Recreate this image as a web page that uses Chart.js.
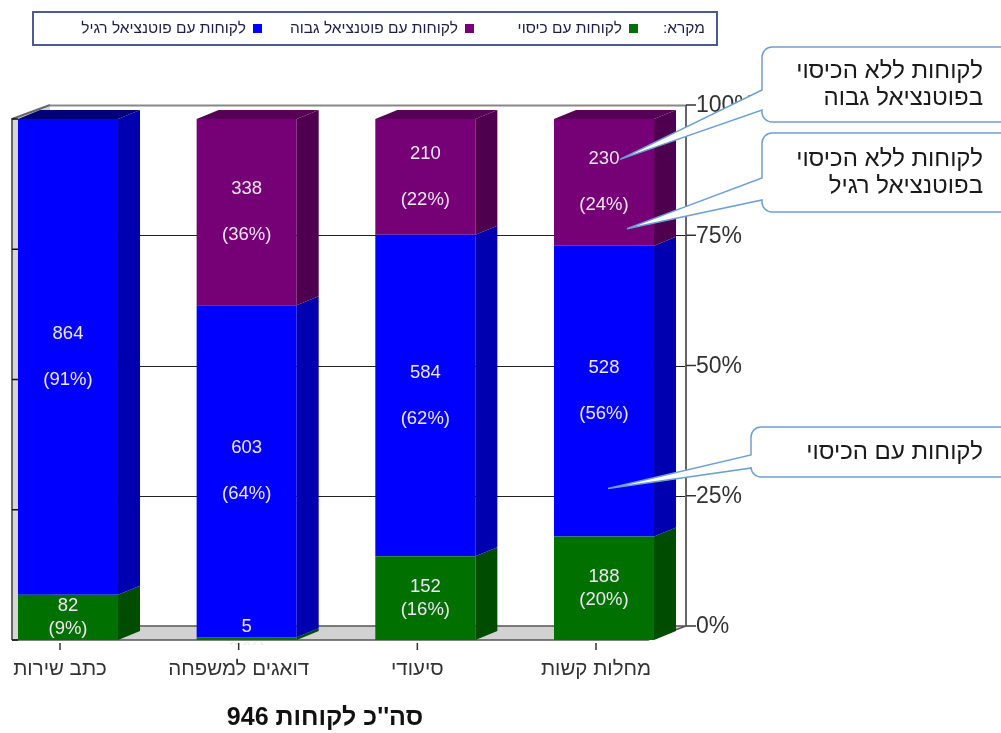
<!DOCTYPE html>
<html>
<head>
<meta charset="utf-8">
<script src="https://cdn.jsdelivr.net/npm/chart.js@4/dist/chart.umd.min.js"></script>
<style>
  html, body { margin: 0; padding: 0; background: #fff; }
  #wrap { width: 1001px; height: 733px; }
</style>
</head>
<body>
<div id="wrap"><canvas id="chart" width="1001" height="733"></canvas></div>
<script>
// נתונים - סדר הקטגוריות מימין לשמאל
const categories = ['מחלות קשות', 'סיעודי', 'דואגים למשפחה', 'כתב שירות'];
const coveredCounts = [188, 152, 5, 82];
const regularCounts = [528, 584, 603, 864];
const highCounts = [230, 210, 338, 0];
const seriesNames = ['לקוחות עם כיסוי', 'לקוחות עם פוטנציאל רגיל', 'לקוחות עם פוטנציאל גבוה'];
const yTicks = [0, 25, 50, 75, 100];

const totals = categories.map((c, i) => coveredCounts[i] + regularCounts[i] + highCounts[i]);
const grandTotal = totals[0];
const toPct = arr => arr.map((v, i) => v / totals[i] * 100);

const FONT = '"Liberation Sans", Arial, "DejaVu Sans", sans-serif';
const DX = 22, DY = 9;          // עומק תלת-ממדי של העמודות
const WX = 38, WY = 14;         // עומק הרצפה / הקיר

const frontColors = ['#007000', '#0000ff', '#760076'];
const sideColors = ['#004c00', '#0000b0', '#4e004f'];
const topColors = ['#005000', '#000078', '#560058'];

const counts = [coveredCounts, regularCounts, highCounts];

function shade(ctx, pts, fill) {
    ctx.beginPath();
    ctx.moveTo(pts[0][0], pts[0][1]);
    for (let k = 1; k < pts.length; k++) ctx.lineTo(pts[k][0], pts[k][1]);
    ctx.closePath();
    ctx.fillStyle = fill;
    ctx.fill();
}

// רקע: קירות, רצפה וקווי רשת
const backdrop = {
    id: 'backdrop',
    beforeDatasetsDraw(chart) {
        const { ctx, scales: { y } } = chart;
        const left = 12, right = 648;
        const y0 = y.getPixelForValue(0), y100 = y.getPixelForValue(100);
        ctx.save();
        // קיר שמאלי
        shade(ctx, [[left, y100], [left + WX, y100 - WY], [left + WX, y0 - WY], [left, y0]], '#d6d6d6');
        // רצפה
        shade(ctx, [[left, y0], [right, y0], [right + WX, y0 - WY], [left + WX, y0 - WY]], '#d2d2d2');
        ctx.strokeStyle = '#555';
        ctx.lineWidth = 1.5;
        ctx.beginPath();
        ctx.moveTo(left + WX, y0 - WY); ctx.lineTo(right + WX, y0 - WY);
        ctx.moveTo(left, y0); ctx.lineTo(right, y0); ctx.lineTo(right + WX, y0 - WY);
        ctx.stroke();
        // קווי רשת בקיר האחורי
        yTicks.forEach(t => {
            if (t === 0) return;
            const py = Math.round(y.getPixelForValue(t) - WY) + 0.5;
            ctx.strokeStyle = t === 100 ? '#888' : '#222';
            ctx.lineWidth = t === 100 ? 2 : 1;
            ctx.beginPath();
            ctx.moveTo(left + WX, py);
            ctx.lineTo(right + WX, py);
            ctx.stroke();
        });
        // ציר שמאלי
        ctx.strokeStyle = '#666';
        ctx.lineWidth = 2;
        ctx.beginPath();
        ctx.moveTo(left + WX, y100 - WY); ctx.lineTo(left, y100); ctx.lineTo(left, y0);
        ctx.stroke();
        ctx.strokeStyle = '#111';
        ctx.lineWidth = 1.5;
        yTicks.forEach(t => {
            const py = y.getPixelForValue(t);
            ctx.beginPath(); ctx.moveTo(left, py); ctx.lineTo(left + 6, py); ctx.stroke();
        });
        // ציר ימני ותוויות אחוזים
        ctx.strokeStyle = '#666';
        ctx.lineWidth = 2;
        ctx.beginPath();
        ctx.moveTo(right + WX, y100 - WY); ctx.lineTo(right + WX, y0 - WY);
        ctx.stroke();
        ctx.font = '23px ' + FONT;
        ctx.fillStyle = '#333';
        ctx.textAlign = 'left';
        ctx.textBaseline = 'middle';
        yTicks.forEach(t => {
            const py = y.getPixelForValue(t) - WY;
            ctx.strokeStyle = '#333';
            ctx.lineWidth = 1.5;
            ctx.beginPath(); ctx.moveTo(right + WX, py); ctx.lineTo(right + WX + 10, py); ctx.stroke();
            ctx.fillText(t + '%', right + WX + 10, py + 1);
        });
        ctx.restore();
    },
    afterDatasetsDraw(chart) {
        const { ctx } = chart;
        ctx.save();
        // פאות צד ועליונות
        chart.data.datasets.forEach((ds, di) => {
            chart.getDatasetMeta(di).data.forEach((bar, j) => {
                if (!ds.data[j]) return;
                const l = bar.x - bar.width / 2, r = bar.x + bar.width / 2;
                const top = bar.y, bot = bar.base;
                shade(ctx, [[r, top], [r + DX, top - DY], [r + DX, bot - DY], [r, bot]], sideColors[di]);
                const above = chart.data.datasets.slice(di + 1).some(d => d.data[j] > 0);
                if (!above) {
                    shade(ctx, [[l, top], [l + DX, top - DY], [r + DX, top - DY], [r, top]], topColors[di]);
                }
            });
        });
        // תוויות ערכים
        const area = chart.chartArea;
        ctx.beginPath();
        ctx.rect(0, 0, 1001, area.bottom + 5);
        ctx.clip();
        ctx.font = '18.5px ' + FONT;
        ctx.fillStyle = '#efe6f2';
        ctx.textAlign = 'center';
        ctx.textBaseline = 'middle';
        chart.data.datasets.forEach((ds, di) => {
            const gap = di === 0 ? 11.5 : 23;
            chart.getDatasetMeta(di).data.forEach((bar, j) => {
                const n = counts[di][j];
                if (!n) return;
                const mid = (bar.y + bar.base) / 2;
                ctx.fillText(String(n), bar.x, mid - gap);
                ctx.fillText('(' + Math.round(ds.data[j]) + '%)', bar.x, mid + gap);
            });
        });
        ctx.restore();
    },
    afterDraw(chart) {
        const { ctx, scales: { x, y } } = chart;
        ctx.save();
        ctx.direction = 'rtl';
        // תוויות קטגוריות
        const y0 = y.getPixelForValue(0);
        ctx.font = '20.5px ' + FONT;
        ctx.fillStyle = '#333';
        ctx.textAlign = 'center';
        ctx.textBaseline = 'middle';
        categories.forEach((c, i) => {
            const px = x.getPixelForValue(i) - 8;
            ctx.strokeStyle = '#333';
            ctx.lineWidth = 1.5;
            ctx.beginPath(); ctx.moveTo(px, y0 + 3); ctx.lineTo(px, y0 + 10); ctx.stroke();
            ctx.fillText(c, px, y0 + 29);
        });
        // כותרת תחתונה
        ctx.font = 'bold 25px ' + FONT;
        ctx.fillStyle = '#111';
        ctx.fillText('סה\'\'כ לקוחות ' + grandTotal, 325, 718);

        // מקרא
        ctx.strokeStyle = '#4b5b92';
        ctx.lineWidth = 2;
        ctx.strokeRect(33, 12, 684, 33);
        ctx.font = '15.5px ' + FONT;
        ctx.fillStyle = '#1e1e4a';
        ctx.textAlign = 'right';
        ctx.fillText('מקרא:', 705, 29);
        const legendOrder = [0, 2, 1];
        const legendX = [638, 474, 262];
        legendOrder.forEach((di, k) => {
            const rx = legendX[k];
            ctx.fillStyle = frontColors[di];
            ctx.fillRect(rx - 9, 24, 9, 9);
            ctx.fillStyle = '#1e1e4a';
            ctx.fillText(chart.data.datasets[di].label, rx - 16, 29);
        });

        // בועות הסבר
        const metaHigh = chart.getDatasetMeta(2).data[0];
        const metaReg = chart.getDatasetMeta(1).data[0];
        callout(ctx, 762, 47, 260, 75, 90, 110, metaHigh.x + 16, (metaHigh.y + metaHigh.base) / 2 - 23,
            ['לקוחות ללא הכיסוי', 'בפוטנציאל גבוה']);
        callout(ctx, 762, 133, 260, 79, 178, 200, metaHigh.x + 23, metaHigh.base - 17,
            ['לקוחות ללא הכיסוי', 'בפוטנציאל רגיל']);
        callout(ctx, 751, 427, 270, 50, 455, 468, metaReg.x + 4, metaReg.base - 48,
            ['לקוחות עם הכיסוי']);
        ctx.restore();
    }
};

function callout(ctx, bx, by, bw, bh, t1, t2, tipX, tipY, lines) {
    const r = 10;
    ctx.save();
    ctx.beginPath();
    ctx.moveTo(bx + r, by);
    ctx.lineTo(bx + bw - r, by);
    ctx.arcTo(bx + bw, by, bx + bw, by + r, r);
    ctx.lineTo(bx + bw, by + bh - r);
    ctx.arcTo(bx + bw, by + bh, bx + bw - r, by + bh, r);
    ctx.lineTo(bx + r, by + bh);
    ctx.arcTo(bx, by + bh, bx, by + bh - r, r);
    ctx.lineTo(bx, t2);
    ctx.lineTo(tipX, tipY);
    ctx.lineTo(bx, t1);
    ctx.lineTo(bx, by + r);
    ctx.arcTo(bx, by, bx + r, by, r);
    ctx.closePath();
    ctx.fillStyle = '#fff';
    ctx.fill();
    ctx.strokeStyle = '#6d9fd6';
    ctx.lineWidth = 1.5;
    ctx.stroke();
    ctx.direction = 'rtl';
    ctx.font = '24px ' + FONT;
    ctx.fillStyle = '#1a1a1a';
    ctx.textAlign = 'right';
    ctx.textBaseline = 'middle';
    const lh = 27;
    const start = by + bh / 2 - (lines.length - 1) * lh / 2;
    lines.forEach((t, k) => ctx.fillText(t, 983, start + k * lh));
    ctx.restore();
}

new Chart(document.getElementById('chart'), {
    type: 'bar',
    data: {
        labels: categories,
        datasets: seriesNames.map((name, di) => ({
            label: name,
            data: toPct(counts[di]),
            backgroundColor: frontColors[di],
            borderWidth: 0,
            clip: false
        }))
    },
    options: {
        responsive: false,
        animation: false,
        layout: { padding: { left: 68, right: 397, top: 119, bottom: 93 } },
        datasets: { bar: { categoryPercentage: 1, barPercentage: 0.56 } },
        scales: {
            x: { display: false, stacked: true, reverse: true, offset: false },
            y: { display: false, stacked: true, min: 0, max: 100 }
        },
        plugins: {
            legend: { display: false },
            tooltip: { enabled: false }
        }
    },
    plugins: [backdrop]
});
</script>
</body>
</html>
